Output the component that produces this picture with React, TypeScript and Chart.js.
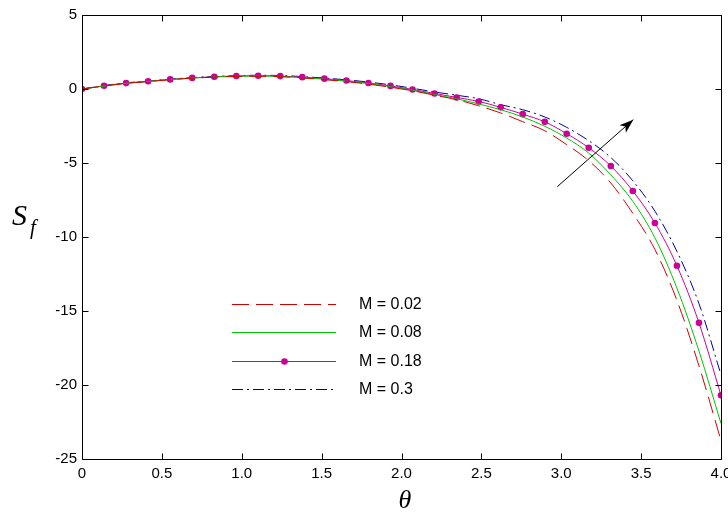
import React, { useEffect, useRef } from 'react';
import { Chart, registerables } from 'chart.js';

Chart.register(...registerables);

// theta grid (30 points, 0..4)
const theta = [
  0, 0.138, 0.276, 0.414, 0.552, 0.69, 0.828, 0.966, 1.103, 1.241,
  1.379, 1.517, 1.655, 1.793, 1.931, 2.069, 2.207, 2.345, 2.483, 2.621,
  2.759, 2.897, 3.034, 3.172, 3.31, 3.448, 3.586, 3.724, 3.862, 4,
];

const sfM002 = [
  0, 0.2, 0.38, 0.5, 0.63, 0.73, 0.8, 0.85, 0.86, 0.83,
  0.75, 0.63, 0.5, 0.33, 0.12, -0.12, -0.42, -0.72, -1.13, -1.62,
  -2.21, -2.82, -3.76, -4.84, -6.35, -8.4, -10.84, -14.28, -18.7, -23.75,
];

const sfM008 = [
  0, 0.2, 0.39, 0.51, 0.64, 0.74, 0.81, 0.86, 0.88, 0.85,
  0.77, 0.66, 0.53, 0.37, 0.16, -0.08, -0.37, -0.66, -1.01, -1.4,
  -1.89, -2.52, -3.31, -4.33, -5.8, -7.59, -10.05, -13.45, -17.7, -22.6,
];

const sfM018 = [
  0, 0.22, 0.4, 0.52, 0.65, 0.75, 0.83, 0.88, 0.9, 0.87,
  0.8, 0.7, 0.57, 0.41, 0.21, -0.03, -0.3, -0.57, -0.84, -1.24,
  -1.7, -2.22, -3.02, -3.97, -5.2, -6.89, -9.05, -11.94, -15.8, -20.7,
];

const sfM03 = [
  0, 0.23, 0.42, 0.54, 0.67, 0.77, 0.85, 0.9, 0.93, 0.91,
  0.84, 0.74, 0.62, 0.47, 0.28, 0.05, -0.2, -0.42, -0.66, -1.06,
  -1.4, -1.89, -2.59, -3.49, -4.63, -6.2, -8.25, -10.97, -14.5, -19.3,
];

const seriesLabels = ['M = 0.02', 'M = 0.08', 'M = 0.18', 'M = 0.3'];

// arrow annotation, data coordinates (tail -> head)
const arrowFrom = { x: 2.975, y: -6.6 };
const arrowTo = { x: 3.451, y: -2.07 };

const RED = '#d40000';
const GREEN = '#00c400';
const MAGENTA = '#cc0099';
const BLUE = '#000099';

const toPoints = (ys: number[]) => ys.map((y, i) => ({ x: theta[i], y }));

const framePlugin = {
  id: 'frame',
  afterDraw(chart: any) {
    const { ctx, chartArea: a, scales } = chart;
    const xs = scales.x;
    const ys = scales.y;
    const L = Math.round(a.left) + 0.5;
    const R = Math.round(a.right) + 0.5;
    const T = Math.round(a.top) + 0.5;
    const B = Math.round(a.bottom) + 0.5;
    ctx.save();
    ctx.strokeStyle = '#000';
    ctx.lineWidth = 1;
    ctx.setLineDash([]);
    ctx.beginPath();
    ctx.rect(L, T, R - L, B - T);
    // inward ticks
    xs.ticks.forEach((t: any) => {
      const px = Math.round(xs.getPixelForValue(t.value)) + 0.5;
      ctx.moveTo(px, B);
      ctx.lineTo(px, B - 6);
      ctx.moveTo(px, T);
      ctx.lineTo(px, T + 6);
    });
    ys.ticks.forEach((t: any) => {
      const py = Math.round(ys.getPixelForValue(t.value)) + 0.5;
      ctx.moveTo(L, py);
      ctx.lineTo(L + 6, py);
      ctx.moveTo(R, py);
      ctx.lineTo(R - 6, py);
    });
    ctx.stroke();

    // axis titles
    ctx.fillStyle = '#000';
    ctx.textBaseline = 'alphabetic';
    ctx.textAlign = 'left';
    ctx.font = 'italic 30px "Liberation Serif"';
    ctx.fillText('S', 12, 225);
    ctx.font = 'italic 21px "Liberation Serif"';
    ctx.fillText('f', 30, 234);
    ctx.textAlign = 'center';
    ctx.font = 'italic 26px "Liberation Serif"';
    ctx.fillText('\u03b8', 405, 508);

    // arrow
    const x0 = xs.getPixelForValue(arrowFrom.x);
    const y0 = ys.getPixelForValue(arrowFrom.y);
    const x1 = xs.getPixelForValue(arrowTo.x);
    const y1 = ys.getPixelForValue(arrowTo.y);
    const ang = Math.atan2(y1 - y0, x1 - x0);
    ctx.beginPath();
    ctx.moveTo(x0, y0);
    ctx.lineTo(x1, y1);
    ctx.stroke();
    ctx.beginPath();
    const hl = 15;
    const hw = 0.33;
    ctx.moveTo(x1, y1);
    ctx.lineTo(x1 - hl * Math.cos(ang - hw), y1 - hl * Math.sin(ang - hw));
    ctx.lineTo(x1 - hl * 0.7 * Math.cos(ang), y1 - hl * 0.7 * Math.sin(ang));
    ctx.lineTo(x1 - hl * Math.cos(ang + hw), y1 - hl * Math.sin(ang + hw));
    ctx.closePath();
    ctx.fill();

    // legend inside the axes
    const rows = [304.5, 332.5, 361.5, 389.5];
    chart.data.datasets.forEach((ds: any, i: number) => {
      const y = rows[i];
      ctx.strokeStyle = ds.borderColor;
      ctx.setLineDash(ds.borderDash || []);
      ctx.beginPath();
      ctx.moveTo(232, y);
      ctx.lineTo(336, y);
      ctx.stroke();
      ctx.setLineDash([]);
      if (ds.pointRadius > 0) {
        ctx.fillStyle = ds.pointBackgroundColor;
        ctx.beginPath();
        ctx.arc(284.5, y, ds.pointRadius, 0, Math.PI * 2);
        ctx.fill();
      }
      ctx.fillStyle = '#000';
      ctx.textAlign = 'left';
      ctx.textBaseline = 'middle';
      ctx.font = '16px "Liberation Sans"';
      ctx.fillText(ds.label, 359, y);
    });
    ctx.restore();
  },
};

const App: React.FC = () => {
  const canvasRef = useRef<HTMLCanvasElement | null>(null);

  useEffect(() => {
    if (!canvasRef.current) return;
    const ctx = canvasRef.current.getContext('2d');
    if (!ctx) return;

    const tickFont = { family: '"Liberation Sans", Arial', size: 15 };

    const chart = new Chart(ctx, {
      type: 'line',
      data: {
        datasets: [
          {
            label: seriesLabels[0],
            data: toPoints(sfM002),
            borderColor: RED,
            borderWidth: 1,
            borderDash: [17, 7],
            pointRadius: 0,
            cubicInterpolationMode: 'monotone',
          },
          {
            label: seriesLabels[1],
            data: toPoints(sfM008),
            borderColor: GREEN,
            borderWidth: 1,
            pointRadius: 0,
            cubicInterpolationMode: 'monotone',
          },
          {
            label: seriesLabels[2],
            data: toPoints(sfM018),
            borderColor: MAGENTA,
            borderWidth: 1,
            pointRadius: 3.3,
            pointBorderWidth: 0,
            pointBackgroundColor: MAGENTA,
            cubicInterpolationMode: 'monotone',
          },
          {
            label: seriesLabels[3],
            data: toPoints(sfM03),
            borderColor: BLUE,
            borderWidth: 1,
            borderDash: [11, 4, 2, 4],
            pointRadius: 0,
            cubicInterpolationMode: 'monotone',
          },
        ],
      },
      options: {
        responsive: false,
        animation: false,
        devicePixelRatio: 1,
        layout: { padding: { left: 0, top: 15, right: 7, bottom: 0 } },
        plugins: {
          legend: { display: false },
          tooltip: { enabled: false },
        },
        scales: {
          x: {
            type: 'linear',
            min: 0,
            max: 4,
            ticks: { stepSize: 0.5, color: '#000', font: tickFont, padding: 6, maxRotation: 0 },
            grid: { display: false, drawTicks: false },
            border: { display: false },
            afterFit: (s: any) => {
              s.height = 62;
              s.paddingLeft = 0;
              s.paddingRight = 0;
            },
          },
          y: {
            type: 'linear',
            min: -25,
            max: 5,
            ticks: { stepSize: 5, color: '#000', font: tickFont, padding: 5 },
            grid: { display: false, drawTicks: false },
            border: { display: false },
            afterFit: (s: any) => {
              s.width = 82;
              s.paddingTop = 0;
              s.paddingBottom = 0;
            },
          },
        },
      },
      plugins: [framePlugin],
    } as any);

    return () => {
      chart.destroy();
    };
  }, []);

  return (
    <div style={{ position: 'fixed', left: 0, top: 0, width: 728, height: 521, background: '#fff' }}>
      <canvas ref={canvasRef} width={728} height={521} />
    </div>
  );
};

export default App;
